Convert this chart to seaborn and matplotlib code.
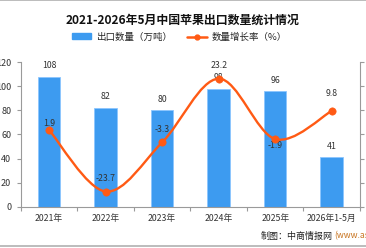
import numpy as np
import matplotlib
matplotlib.use('Agg')
import matplotlib.pyplot as plt
import seaborn as sns
from matplotlib.path import Path
from matplotlib.patches import PathPatch, Patch
from matplotlib.lines import Line2D

sns.set_style('white')
plt.rcParams['font.family'] = ['Noto Sans CJK SC', 'DejaVu Sans']
plt.rcParams['axes.unicode_minus'] = False

# 数据
years = ['2021年', '2022年', '2023年', '2024年', '2025年', '2026年1-5月']
exports = [108, 82, 80, 98, 96, 41]          # 出口数量（万吨）
growth = [1.9, -23.7, -3.3, 23.2, -1.9, 9.8]  # 数量增长率（%）

# 增长率标签的上下偏移（像素）
rate_offsets = [6, 13, 13, 13, -6, 17]

BAR_C = '#3d9bf0'
LINE_C = '#ff5a14'
AXIS_C = '#9a9a9a'
TXT_C = '#333333'

fig = plt.figure(figsize=(3.66, 2.48), dpi=100)
ax = fig.add_axes([0.0566, 0.1667, 0.927, 0.582])

sns.barplot(x=years, y=exports, ax=ax, color=BAR_C, width=0.4,
            edgecolor='#8cc6ff', linewidth=0.6, saturation=1)
ax.set_xlim(-0.5, len(years) - 0.5)
ax.set_ylim(0, 120)
ax.set_yticks(range(0, 121, 20))
ax.set_xlabel('')
ax.set_ylabel('')

for i, v in enumerate(exports):
    ax.annotate(str(v), (i, v), xytext=(0, 8), textcoords='offset points',
                ha='center', va='center', fontsize=6.3, color=TXT_C)

# 右轴：增长率
ax2 = ax.twinx()
ax2.set_ylim(-30, 30)
ax2.set_yticks(range(-30, 31, 10))
ax2.set_yticklabels([])

# 平滑曲线 (Catmull-Rom -> Bezier)
xs = np.arange(len(growth), dtype=float)
ys = np.array(growth, dtype=float)
pts = np.column_stack([xs, ys])
ext = np.vstack([pts[0], pts, pts[-1]])
verts = [tuple(pts[0])]
codes = [Path.MOVETO]
for k in range(len(pts) - 1):
    p0, p1, p2, p3 = ext[k], ext[k + 1], ext[k + 2], ext[k + 3]
    c1 = p1 + (p2 - p0) / 6
    c2 = p2 - (p3 - p1) / 6
    verts += [tuple(c1), tuple(c2), tuple(p2)]
    codes += [Path.CURVE4] * 3
ax2.add_patch(PathPatch(Path(verts, codes), facecolor='none',
                        edgecolor=LINE_C, linewidth=1.7, zorder=3))
sns.scatterplot(x=xs, y=ys, ax=ax2, color=LINE_C, s=28, edgecolor=LINE_C,
                zorder=4, legend=False)
for i, v in enumerate(growth):
    ax2.annotate(f'{v}', (i, v), xytext=(0, rate_offsets[i] * 0.72),
                 textcoords='offset points', ha='center', va='center',
                 fontsize=6.3, color=TXT_C)

# 坐标轴样式
for a in (ax, ax2):
    for s in a.spines.values():
        s.set_color(AXIS_C)
        s.set_linewidth(0.8)
    a.spines['top'].set_visible(False)
ax.spines['right'].set_visible(False)
ax2.spines['left'].set_visible(False)
ax2.spines['bottom'].set_visible(False)

ax.tick_params(axis='y', length=3, width=0.8, color=AXIS_C, labelsize=6.5,
               labelcolor=TXT_C, pad=3.8, direction='out', left=True)
ax2.tick_params(axis='y', length=3, width=0.8, color=AXIS_C, right=True,
                direction='out')
ax.tick_params(axis='x', which='major', length=0, labelsize=6.3,
               labelcolor=TXT_C, pad=5)
ax.set_xticks(np.arange(-0.5, len(years)), minor=True)
ax.tick_params(axis='x', which='minor', length=3, width=0.8, color=AXIS_C,
               bottom=True, direction='out')

# 标题与图例
fig.text(0.5, 0.919, '2021-2026年5月中国苹果出口数量统计情况', ha='center',
         va='center', fontsize=8.6, fontweight='bold', color='#111111')
handles = [Patch(facecolor=BAR_C, edgecolor=BAR_C),
           Line2D([0], [0], color=LINE_C, lw=1.8, marker='o', markersize=3.5)]
fig.legend(handles, ['出口数量（万吨）', '数量增长率（%）'], loc='center',
           bbox_to_anchor=(0.49, 0.851), ncol=2, frameon=False, fontsize=6.8,
           handlelength=2.1, handleheight=0.5, columnspacing=1.6,
           handletextpad=0.5)

# 来源
fig.text(0.712, 0.048, '制图：中商情报网', ha='left', va='center', fontsize=6.5,
         color='#222222')
fig.text(0.913, 0.048, '(www.askci.com)', ha='left', va='center', fontsize=6.2,
         color='#c87420')

# 上下边框线
fig.add_artist(Line2D([0, 1], [0.998, 0.998], color='#b0b0b0', lw=1.2,
                      transform=fig.transFigure))
fig.add_artist(Line2D([0, 1], [0.008, 0.008], color='#b0b0b0', lw=1.2,
                      transform=fig.transFigure))

fig.savefig('out.png', dpi=100)
